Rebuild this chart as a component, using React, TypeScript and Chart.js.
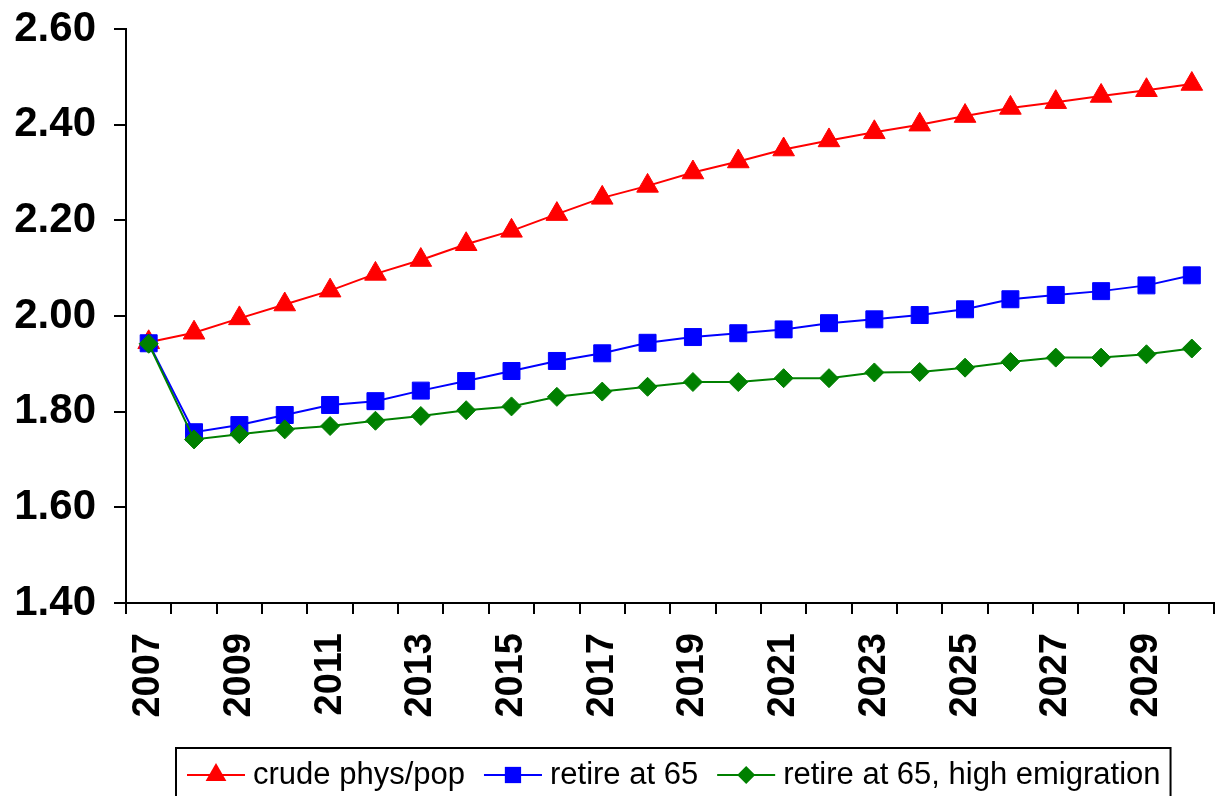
import React, { useEffect, useRef } from 'react';
import { Chart, registerables } from 'chart.js';

Chart.register(...registerables);

const years = [
  '2007', '2008', '2009', '2010', '2011', '2012', '2013', '2014', '2015', '2016', '2017', '2018',
  '2019', '2020', '2021', '2022', '2023', '2024', '2025', '2026', '2027', '2028', '2029', '2030',
];

const crudePhysPop = [
  1.945, 1.965, 1.995, 2.024, 2.053, 2.088, 2.117, 2.15, 2.178, 2.213, 2.247, 2.272,
  2.3, 2.323, 2.348, 2.367, 2.384, 2.4, 2.418, 2.435, 2.447, 2.46, 2.472, 2.485,
];

const retireAt65 = [
  1.943, 1.757, 1.772, 1.793, 1.814, 1.822, 1.844, 1.864, 1.885, 1.906, 1.922, 1.944,
  1.956, 1.964, 1.972, 1.985, 1.993, 2.002, 2.014, 2.035, 2.044, 2.052, 2.064, 2.085,
];

const retireAt65HighEmigration = [
  1.942, 1.742, 1.753, 1.763, 1.77, 1.781, 1.791, 1.803, 1.811, 1.831, 1.842, 1.852,
  1.862, 1.862, 1.87, 1.87, 1.882, 1.883, 1.892, 1.904, 1.913, 1.913, 1.92, 1.932,
];

const seriesLabels = ['crude phys/pop', 'retire at 65', 'retire at 65, high emigration'];
const seriesColors = ['#FF0000', '#0000FF', '#008000'];
const seriesPointStyles = ['triangle', 'rect', 'rectRot'];
const seriesPointRadii = [12.5, 12, 9.5];

const yMin = 1.4;
const yMax = 2.6;
const yStep = 0.2;

const FONT = '"Liberation Sans", Arial, Helvetica, sans-serif';

function drawMarker(ctx: CanvasRenderingContext2D, style: string, x: number, y: number, r: number) {
  ctx.beginPath();
  if (style === 'triangle') {
    ctx.moveTo(x, y - r);
    ctx.lineTo(x + r * 0.866, y + r / 2);
    ctx.lineTo(x - r * 0.866, y + r / 2);
  } else if (style === 'rect') {
    const s = r * Math.SQRT1_2;
    ctx.rect(x - s, y - s, 2 * s, 2 * s);
  } else {
    ctx.moveTo(x - r, y);
    ctx.lineTo(x, y - r);
    ctx.lineTo(x + r, y);
    ctx.lineTo(x, y + r);
  }
  ctx.closePath();
  ctx.fill();
}

const boxLegendPlugin = {
  id: 'boxLegend',
  afterDraw(chart: any) {
    const ctx: CanvasRenderingContext2D = chart.ctx;
    ctx.save();
    ctx.font = `normal 31px ${FONT}`;
    ctx.textBaseline = 'middle';
    ctx.textAlign = 'left';
    const boxLeft = 176;
    const boxTop = 748;
    const rowY = 775;
    const lineLen = 58;
    const textGap = 8;
    const itemGap = 19;
    let x = boxLeft + 11;
    chart.data.datasets.forEach((ds: any, i: number) => {
      ctx.strokeStyle = ds.borderColor;
      ctx.fillStyle = ds.borderColor;
      ctx.lineWidth = 2;
      ctx.beginPath();
      ctx.moveTo(x, rowY);
      ctx.lineTo(x + lineLen, rowY);
      ctx.stroke();
      drawMarker(ctx, seriesPointStyles[i], x + lineLen / 2, rowY, seriesPointRadii[i] - 0.5);
      x += lineLen + textGap;
      ctx.fillStyle = '#000';
      ctx.fillText(ds.label, x, rowY);
      x += ctx.measureText(ds.label).width + itemGap;
    });
    const boxRight = x - itemGap + 10;
    ctx.strokeStyle = '#000';
    ctx.lineWidth = 2;
    ctx.strokeRect(boxLeft, boxTop, boxRight - boxLeft, 80);
    ctx.restore();
  },
};

export default function App() {
  const canvasRef = useRef<HTMLCanvasElement | null>(null);

  useEffect(() => {
    if (!canvasRef.current) return;
    const seriesData = [crudePhysPop, retireAt65, retireAt65HighEmigration];
    const chart = new Chart(canvasRef.current, {
      type: 'line',
      data: {
        labels: years,
        datasets: seriesData.map((d, i) => ({
          label: seriesLabels[i],
          data: d,
          borderColor: seriesColors[i],
          backgroundColor: seriesColors[i],
          borderWidth: 2,
          pointStyle: seriesPointStyles[i] as any,
          pointRadius: seriesPointRadii[i],
          pointBorderWidth: 1,
          pointBorderColor: seriesColors[i],
          pointBackgroundColor: seriesColors[i],
          tension: 0,
          fill: false,
          order: 2 - i,
        })),
      },
      options: {
        responsive: false,
        animation: false,
        devicePixelRatio: 1,
        layout: { padding: { top: 29, left: 0, right: 2, bottom: 58 } },
        plugins: {
          legend: { display: false },
          tooltip: { enabled: false },
        },
        scales: {
          x: {
            type: 'category',
            offset: true,
            grid: {
              offset: true,
              drawOnChartArea: false,
              drawTicks: true,
              tickLength: 11,
              color: '#000',
              lineWidth: 2,
            },
            border: { display: true, color: '#000', width: 2 },
            ticks: {
              autoSkip: false,
              minRotation: 90,
              maxRotation: 90,
              padding: 19,
              color: '#000',
              font: { family: FONT, size: 38, weight: 'bold' },
              callback: (_v: any, i: number) => (i % 2 === 0 ? years[i] : ''),
            },
            afterFit: (s: any) => {
              s.height = 135;
              s.paddingLeft = 0;
              s.paddingRight = 0;
            },
          },
          y: {
            min: yMin,
            max: yMax,
            grid: {
              drawOnChartArea: false,
              drawTicks: true,
              tickLength: 12,
              color: '#000',
              lineWidth: 2,
            },
            border: { display: true, color: '#000', width: 2 },
            ticks: {
              stepSize: yStep,
              padding: 18,
              color: '#000',
              font: { family: FONT, size: 42, weight: 'bold' },
              callback: (v: any) => Number(v).toFixed(2),
            },
            afterFit: (s: any) => {
              s.width = 126;
              s.paddingTop = 0;
              s.paddingBottom = 0;
            },
          },
        },
      },
      plugins: [boxLegendPlugin],
    });
    return () => chart.destroy();
  }, []);

  return (
    <div
      style={{
        position: 'absolute',
        left: 0,
        top: 0,
        width: 1215,
        height: 796,
        overflow: 'hidden',
        background: '#fff',
      }}
    >
      <canvas ref={canvasRef} width={1228} height={796} style={{ display: 'block', width: 1228, height: 796 }} />
    </div>
  );
}
